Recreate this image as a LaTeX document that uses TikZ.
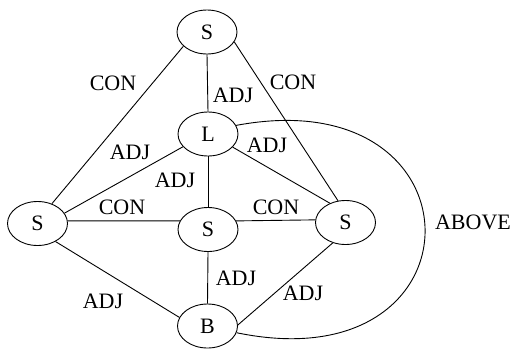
\documentclass[tikz,border=0pt]{standalone}
\usepackage{fontspec}
\setmainfont{Liberation Serif}
\usetikzlibrary{shapes.geometric}
\begin{document}
\begin{tikzpicture}[x=1pt,y=-1pt,
  nd/.style={draw,ellipse,minimum width=60pt,minimum height=44pt,inner sep=0pt,line width=0.9pt,font=\fontsize{22}{24}\selectfont},
  lbl/.style={inner sep=0pt,font=\fontsize{22}{24}\selectfont},
  edge/.style={line width=0.9pt}]
\useasboundingbox (0,0) rectangle (512,349);
\node[nd] (topS) at (207,32) {S};
\node[nd] (L) at (208,134) {L};
\node[nd] (leftS) at (37.5,223.5) {S};
\node[nd] (midS) at (208,229.5) {S};
\node[nd] (rightS) at (345.5,222.5) {S};
\node[nd] (B) at (207.5,326) {B};

\draw[edge] (topS.211) -- (leftS.54);
\draw[edge] (topS.340) -- (rightS.109);
\draw[edge] (topS.south) -- (L.north);
\draw[edge] (L.207) -- (leftS.21);
\draw[edge] (L.south) -- (midS.north);
\draw[edge] (L.332) -- (rightS.129);
\draw[edge] (leftS.5) -- (midS.163);
\draw[edge] (midS.17) -- (rightS.175);
\draw[edge] (midS.south) -- (B.north);
\draw[edge] (leftS.315) -- (B.163);
\draw[edge] (rightS.238) -- (B.2);
\draw[edge] (L.17) .. controls (488,78) and (488,385) .. (B.347);

\node[lbl] (l1) at (113,83) {CON};
\node[lbl] (l2) at (233,95) {ADJ};
\node[lbl] (l3) at (293,82) {CON};
\node[lbl] (l4) at (130,152) {ADJ};
\node[lbl] (l5) at (267,145) {ADJ};
\node[lbl] (l6) at (175,180) {ADJ};
\node[lbl] (l7) at (122,207) {CON};
\node[lbl] (l8) at (276,207) {CON};
\node[lbl] (l9) at (473,222) {ABOVE};
\node[lbl] (l10) at (236,278) {ADJ};
\node[lbl] (l11) at (103,301) {ADJ};
\node[lbl] (l12) at (303,293) {ADJ};
\end{tikzpicture}
\end{document}
